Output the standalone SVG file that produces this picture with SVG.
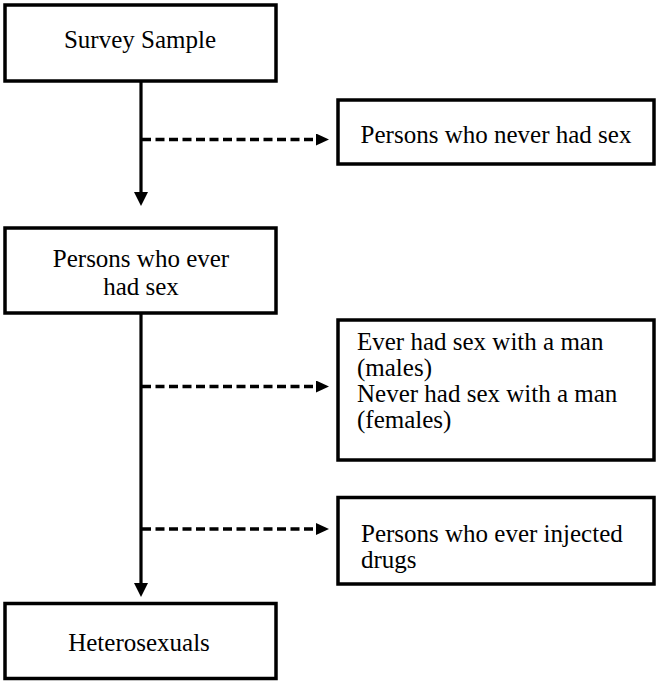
<svg xmlns="http://www.w3.org/2000/svg" width="659" height="685" viewBox="0 0 659 685">
<style>
.box{fill:#fff;stroke:#000;stroke-width:3.5}
.t{font-family:"Liberation Serif","Times New Roman",serif;font-size:25px;fill:#000}
.c{text-anchor:middle}
.solid{stroke:#000;stroke-width:3.2;fill:none}
.dash{stroke:#000;stroke-width:3.5;fill:none;stroke-dasharray:9 4.5}
</style>
<defs>
<marker id="ah" markerUnits="userSpaceOnUse" markerWidth="14" markerHeight="14" viewBox="0 0 14 14" refX="8" refY="7" orient="auto">
<path d="M0,0 L14,7 L0,14 z" fill="#000"/>
</marker>
<marker id="ahd" markerUnits="userSpaceOnUse" markerWidth="13" markerHeight="12" viewBox="0 0 13 12" refX="7" refY="6" orient="auto">
<path d="M0,0 L13,6 L0,12 z" fill="#000"/>
</marker>
</defs>
<g id="connectors">
<line class="solid" x1="141" y1="82" x2="141" y2="200" marker-end="url(#ah)"/>
<line class="dash" x1="142" y1="139.5" x2="323" y2="139.5" marker-end="url(#ahd)"/>
<line class="solid" x1="141" y1="313" x2="141" y2="591" marker-end="url(#ah)"/>
<line class="dash" x1="142" y1="386.5" x2="323" y2="386.5" marker-end="url(#ahd)"/>
<line class="dash" x1="142" y1="529" x2="323" y2="529" marker-end="url(#ahd)"/>
</g>
<g id="survey-sample">
<rect class="box" x="5" y="5" width="271" height="76"/>
<text class="t c" x="140" y="48">Survey Sample</text>
</g>
<g id="never-had-sex">
<rect class="box" x="338" y="100" width="316" height="64"/>
<text class="t c" x="496" y="143">Persons who never had sex</text>
</g>
<g id="ever-had-sex">
<rect class="box" x="5" y="228" width="271" height="85"/>
<text class="t c" x="141" y="267">Persons who ever</text>
<text class="t c" x="141" y="295">had sex</text>
</g>
<g id="sex-with-man">
<rect class="box" x="338" y="320" width="316" height="140"/>
<text class="t" x="357" y="350">Ever had sex with a man</text>
<text class="t" x="357" y="376">(males)</text>
<text class="t" x="357" y="402">Never had sex with a man</text>
<text class="t" x="357" y="428">(females)</text>
</g>
<g id="injected-drugs">
<rect class="box" x="338" y="497.5" width="316" height="86.5"/>
<text class="t" x="361" y="542">Persons who ever injected</text>
<text class="t" x="361" y="568">drugs</text>
</g>
<g id="heterosexuals">
<rect class="box" x="5" y="603.5" width="271" height="75"/>
<text class="t c" x="139" y="651">Heterosexuals</text>
</g>
</svg>
